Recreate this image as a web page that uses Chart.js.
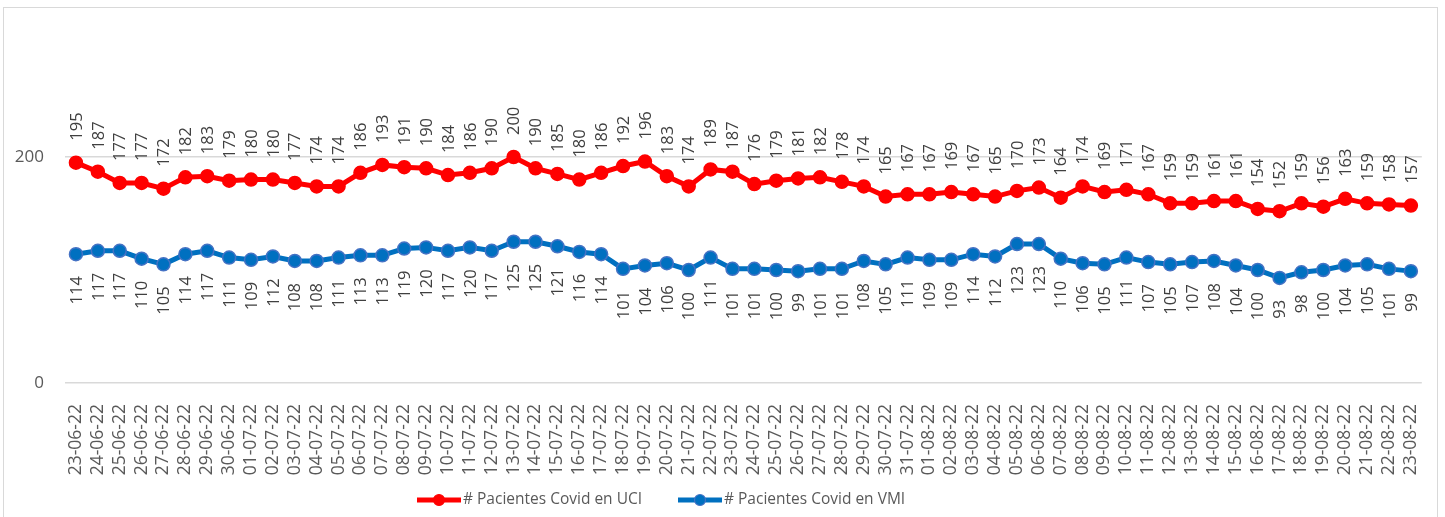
<!DOCTYPE html>
<html>
<head>
<meta charset="utf-8">
<script src="https://cdn.jsdelivr.net/npm/chart.js@4"></script>
<style>
  body { margin: 0; background: #fff; }
  #frame { position: absolute; left: 3px; top: 7px; width: 1433px; height: 520px; border: 1px solid #d9d9d9; }
  #wrap { position: absolute; left: 0; top: 0; width: 1445px; height: 517px; }
</style>
</head>
<body>
<div id="frame"></div>
<div id="wrap"><canvas id="chart" width="1445" height="517"></canvas></div>
<script>
const fechas = [
  "23-06-22","24-06-22","25-06-22","26-06-22","27-06-22","28-06-22","29-06-22","30-06-22",
  "01-07-22","02-07-22","03-07-22","04-07-22","05-07-22","06-07-22","07-07-22","08-07-22",
  "09-07-22","10-07-22","11-07-22","12-07-22","13-07-22","14-07-22","15-07-22","16-07-22",
  "17-07-22","18-07-22","19-07-22","20-07-22","21-07-22","22-07-22","23-07-22","24-07-22",
  "25-07-22","26-07-22","27-07-22","28-07-22","29-07-22","30-07-22","31-07-22","01-08-22",
  "02-08-22","03-08-22","04-08-22","05-08-22","06-08-22","07-08-22","08-08-22","09-08-22",
  "10-08-22","11-08-22","12-08-22","13-08-22","14-08-22","15-08-22","16-08-22","17-08-22",
  "18-08-22","19-08-22","20-08-22","21-08-22","22-08-22","23-08-22"
];
const pacientesUCI = [
  195,187,177,177,172,182,183,179,180,180,177,174,174,186,193,191,190,184,186,190,
  200,190,185,180,186,192,196,183,174,189,187,176,179,181,182,178,174,165,167,167,
  169,167,165,170,173,164,174,169,171,167,159,159,161,161,154,152,159,156,163,159,
  158,157
];
const pacientesVMI = [
  114,117,117,110,105,114,117,111,109,112,108,108,111,113,113,119,120,117,120,117,
  125,125,121,116,114,101,104,106,100,111,101,101,100,99,101,101,108,105,111,109,
  109,114,112,123,123,110,106,105,111,107,105,107,108,104,100,93,98,100,104,105,
  101,99
];
const yTicks = [0, 200];

const FONT = "Open Sans";

// etiquetas de datos verticales + leyenda
const etiquetas = {
    id: "etiquetas",
    afterDatasetsDraw(chart) {
        const ctx = chart.ctx;
        ctx.save();
        ctx.font = "16.5px '" + FONT + "'";
        ctx.fillStyle = "#404040";
        ctx.textBaseline = "middle";
        chart.data.datasets.forEach((ds, i) => {
            const meta = chart.getDatasetMeta(i);
            const arriba = i === 0;
            meta.data.forEach((pt, j) => {
                ctx.save();
                ctx.translate(pt.x, arriba ? pt.y - 22 : pt.y + 22);
                ctx.rotate(-Math.PI / 2);
                ctx.textAlign = arriba ? "left" : "right";
                ctx.fillText(String(ds.data[j]), 0, 1);
                ctx.restore();
            });
        });

        // leyenda
        ctx.font = "15.5px '" + FONT + "'";
        ctx.textAlign = "left";
        let x = 417;
        const y = 500;
        chart.data.datasets.forEach((ds) => {
            ctx.strokeStyle = ds.borderColor;
            ctx.lineWidth = 5;
            ctx.beginPath();
            ctx.moveTo(x, y);
            ctx.lineTo(x + 44, y);
            ctx.stroke();
            ctx.beginPath();
            ctx.arc(x + 22, y, 5.5, 0, Math.PI * 2);
            ctx.fillStyle = ds.pointBackgroundColor;
            ctx.fill();
            ctx.strokeStyle = ds.pointBorderColor;
            ctx.lineWidth = 1.2;
            ctx.stroke();
            ctx.fillStyle = "#595959";
            ctx.fillText(ds.label, x + 46, y);
            x += 261;
        });
        ctx.restore();
    }
};

new Chart(document.getElementById("chart"), {
    type: "line",
    data: {
        labels: fechas,
        datasets: [
            {
                label: "# Pacientes Covid en UCI",
                data: pacientesUCI,
                borderColor: "#ff0000",
                backgroundColor: "#ff0000",
                pointBackgroundColor: "#ff0000",
                pointBorderColor: "#ff0000",
                borderWidth: 5,
                pointRadius: 6.5,
                pointBorderWidth: 1.5,
                tension: 0,
            },
            {
                label: "# Pacientes Covid en VMI",
                data: pacientesVMI,
                borderColor: "#0070c0",
                backgroundColor: "#0070c0",
                pointBackgroundColor: "#0070c0",
                pointBorderColor: "#4472c4",
                borderWidth: 5,
                pointRadius: 6.5,
                pointBorderWidth: 1.5,
                tension: 0,
            },
        ],
    },
    options: {
        responsive: false,
        animation: false,
        layout: { padding: { top: 44, right: 16, left: 0, bottom: 0 } },
        plugins: {
            legend: { display: false },
            tooltip: { enabled: false },
        },
        scales: {
            x: {
                offset: true,
                grid: { display: false },
                border: { display: false },
                afterFit(scale) { scale.height = 134; },
                ticks: {
                    autoSkip: false,
                    minRotation: 90,
                    maxRotation: 90,
                    padding: 13,
                    color: "#595959",
                    font: { family: FONT, size: 17.5 },
                },
            },
            y: {
                min: 0,
                max: 300,
                afterBuildTicks(scale) { scale.ticks = yTicks.map(v => ({ value: v })); },
                afterFit(scale) { scale.width = 65; },
                grid: { color: "#d9d9d9", lineWidth: 1.5, drawTicks: false },
                border: { display: false },
                ticks: {
                    padding: 21,
                    color: "#595959",
                    font: { family: FONT, size: 17 },
                },
            },
        },
    },
    plugins: [etiquetas],
});
</script>
</body>
</html>
